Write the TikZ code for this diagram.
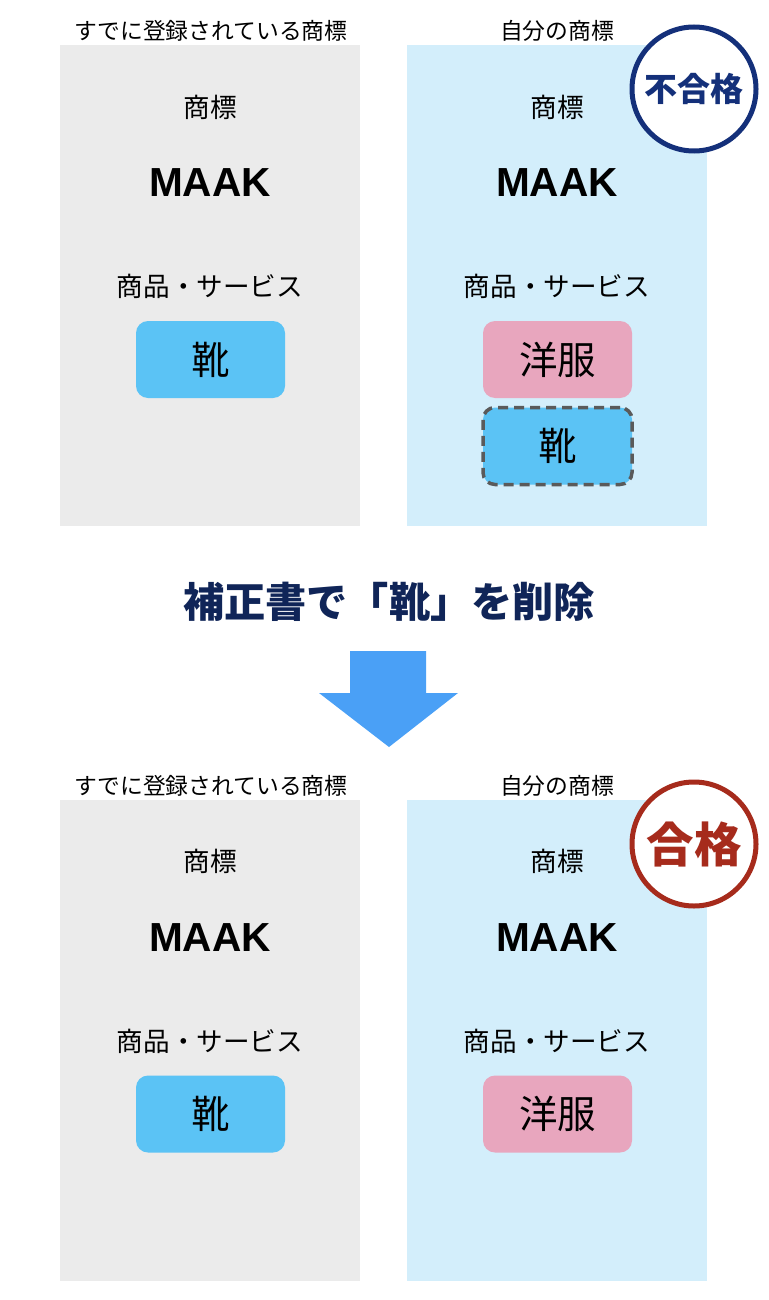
\documentclass[tikz,border=0pt]{standalone}
\usepackage{fontspec}
\newfontfamily\jp{Noto Sans CJK JP}
\newfontfamily\lat{Liberation Sans}
\definecolor{panelgray}{HTML}{EBEBEB}
\definecolor{panelblue}{HTML}{D3EEFB}
\definecolor{shoeblue}{HTML}{5BC3F5}
\definecolor{clothpink}{HTML}{E8A6BE}
\definecolor{navy}{HTML}{14307A}
\definecolor{titlenavy}{HTML}{102558}
\definecolor{passred}{HTML}{A62B1C}
\definecolor{arrowblue}{HTML}{4AA0F6}
\definecolor{dashgray}{HTML}{5A5A5A}
\begin{document}
\begin{tikzpicture}[x=1pt,y=-1pt,
  panel/.style={minimum width=300pt,minimum height=481pt,inner sep=0pt,draw=none},
  hdr/.style={font=\jp\fontsize{22.8}{26}\selectfont,inner sep=0pt},
  lbl/.style={font=\jp\fontsize{26.6}{30}\selectfont,inner sep=0pt},
  brand/.style={font=\lat\bfseries\fontsize{40.6}{44}\selectfont,inner sep=0pt},
  item/.style={minimum width=149pt,minimum height=77pt,rounded corners=12pt,inner sep=0pt,font=\jp\fontsize{38.5}{42}\selectfont},
  stamp/.style={circle,minimum size=124pt,line width=5pt,fill=white,inner sep=0pt}
]
\useasboundingbox (0,0) rectangle (768,1300);
% ---------- top ----------
\node[hdr] (h1) at (211,31) {すでに登録されている商標};
\node[hdr] (h2) at (557,31) {自分の商標};
\node[panel,fill=panelgray] (p1) at (210,285.5) {};
\node[panel,fill=panelblue] (p2) at (557,285.5) {};
\node[lbl] (t1) at (210,107) {商標};
\node[brand] (m1) at (210,183) {MAAK};
\node[lbl] (s1) at (210,286) {商品・サービス};
\node[item,fill=shoeblue] (b1) at (210.5,359.5) {靴};
\node[lbl] (t2) at (557,107) {商標};
\node[brand] (m2) at (557,183) {MAAK};
\node[lbl] (s2) at (557,286) {商品・サービス};
\node[item,fill=clothpink] (b2) at (557.5,359.5) {洋服};
\node[item,fill=shoeblue,draw=dashgray,line width=3.5pt,dash pattern=on 10pt off 6pt] (b3) at (557.5,446) {靴};
\node[stamp,draw=navy,text=navy,font=\jp\bfseries\fontsize{33}{36}\selectfont] (c1) at (694,89) {不合格};
% ---------- middle ----------
\node[font=\jp\bfseries\fontsize{41.2}{45}\selectfont,text=titlenavy,inner sep=0pt] (title) at (389,602) {補正書で「靴」を削除};
\fill[arrowblue] (350,651) -- (426,651) -- (426,693) -- (458,693) -- (389,747) -- (319,693) -- (350,693) -- cycle;
% ---------- bottom ----------
\node[hdr] (h3) at (211,786) {すでに登録されている商標};
\node[hdr] (h4) at (557,786) {自分の商標};
\node[panel,fill=panelgray] (p3) at (210,1040.5) {};
\node[panel,fill=panelblue] (p4) at (557,1040.5) {};
\node[lbl] (t3) at (210,861) {商標};
\node[brand] (m3) at (210,938) {MAAK};
\node[lbl] (s3) at (210,1041) {商品・サービス};
\node[item,fill=shoeblue] (b4) at (210.5,1114) {靴};
\node[lbl] (t4) at (557,861) {商標};
\node[brand] (m4) at (557,938) {MAAK};
\node[lbl] (s4) at (557,1041) {商品・サービス};
\node[item,fill=clothpink] (b5) at (557.5,1114) {洋服};
\node[stamp,draw=passred,text=passred,font=\jp\bfseries\fontsize{47.5}{50}\selectfont] (c2) at (694,844) {合格};
\end{tikzpicture}
\end{document}
